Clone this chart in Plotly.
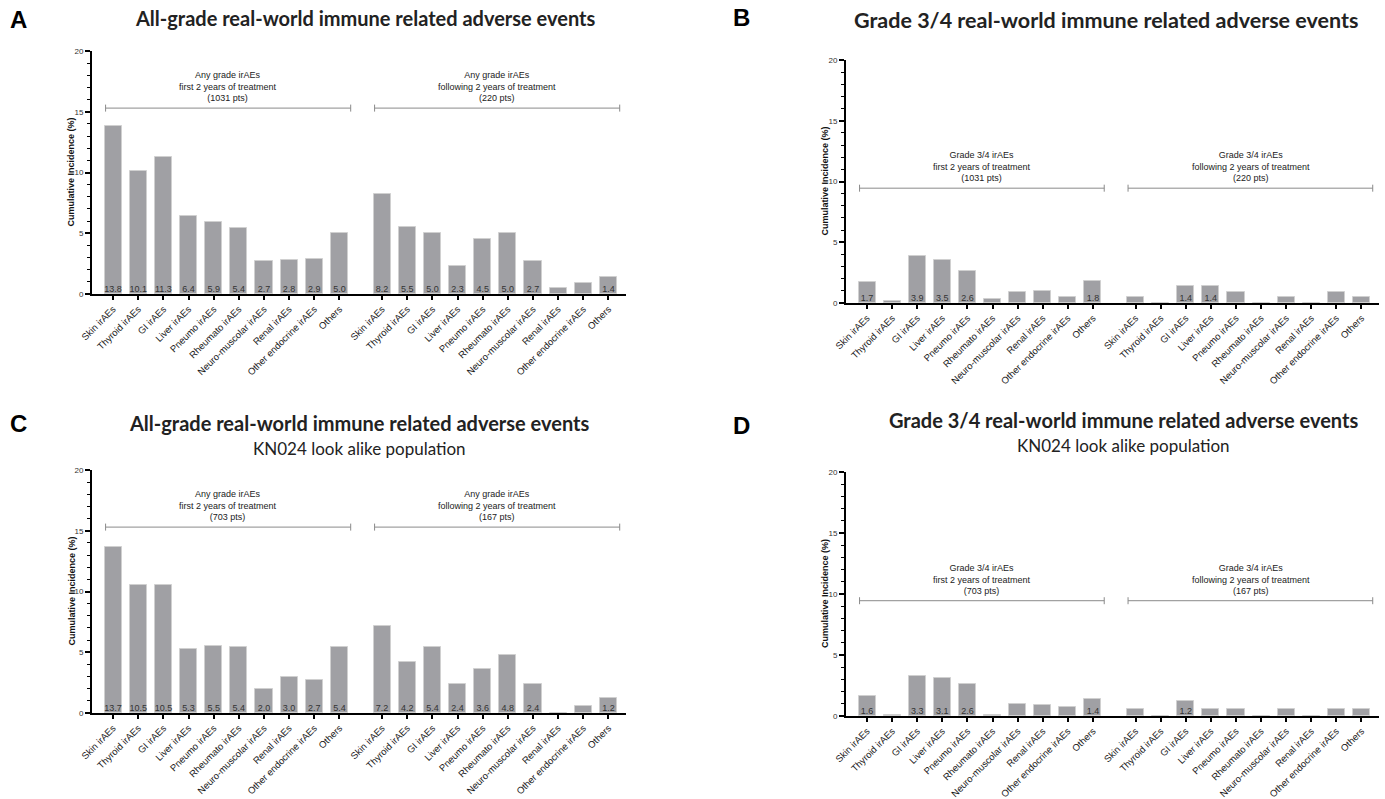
import plotly.graph_objects as go

W, H = 1385, 799

categories = ["Skin irAEs", "Thyroid irAEs", "GI irAEs", "Liver irAEs", "Pneumo irAEs",
              "Rheumato irAEs", "Neuro-muscolar irAEs", "Renal irAEs",
              "Other endocrine irAEs", "Others"]

# Panel A: all-grade
a_first = [13.8, 10.1, 11.3, 6.4, 5.9, 5.4, 2.7, 2.8, 2.9, 5.0]
a_follow = [8.2, 5.5, 5.0, 2.3, 4.5, 5.0, 2.7, 0.5, 0.9, 1.4]
# Panel B: grade 3/4
b_first = [1.7, 0.2, 3.9, 3.5, 2.6, 0.3, 0.9, 1.0, 0.5, 1.8]
b_follow = [0.5, 0.0, 1.4, 1.4, 0.9, 0.0, 0.5, 0.0, 0.9, 0.5]
# Panel C: all-grade, KN024 look alike
c_first = [13.7, 10.5, 10.5, 5.3, 5.5, 5.4, 2.0, 3.0, 2.7, 5.4]
c_follow = [7.2, 4.2, 5.4, 2.4, 3.6, 4.8, 2.4, 0.0, 0.6, 1.2]
# Panel D: grade 3/4, KN024 look alike
d_first = [1.6, 0.1, 3.3, 3.1, 2.6, 0.1, 1.0, 0.9, 0.7, 1.4]
d_follow = [0.6, 0.0, 1.2, 0.6, 0.6, 0.0, 0.6, 0.0, 0.6, 0.6]

group_labels = {
    "A": ["Any grade irAEs<br>first 2 years of treatment<br>(1031 pts)",
          "Any grade irAEs<br>following 2 years of treatment<br>(220 pts)"],
    "B": ["Grade 3/4 irAEs<br>first 2 years of treatment<br>(1031 pts)",
          "Grade 3/4 irAEs<br>following 2 years of treatment<br>(220 pts)"],
    "C": ["Any grade irAEs<br>first 2 years of treatment<br>(703 pts)",
          "Any grade irAEs<br>following 2 years of treatment<br>(167 pts)"],
    "D": ["Grade 3/4 irAEs<br>first 2 years of treatment<br>(703 pts)",
          "Grade 3/4 irAEs<br>following 2 years of treatment<br>(167 pts)"],
}
bracket_level = {"A": 15.3, "B": 9.45, "C": 15.3, "D": 9.45}

titles = {
    "A": "All-grade real-world immune related adverse events",
    "B": "Grade 3/4 real-world immune related adverse events",
    "C": "All-grade real-world immune related adverse events",
    "D": "Grade 3/4 real-world immune related adverse events",
}
subtitle = "KN024 look alike population"
y_title = "Cumulative Incidence (%)"

data = {"A": (a_first, a_follow), "B": (b_first, b_follow),
        "C": (c_first, c_follow), "D": (d_first, d_follow)}

G2 = 10.7  # start of second group
pos1 = [float(i) for i in range(10)]
pos2 = [G2 + i for i in range(10)]
positions = pos1 + pos2
ticktext = categories + categories

# pixel boxes for plot areas: (left, right, top, bottom)
boxes = {"A": (92, 626, 51, 294), "B": (846, 1379, 60, 303),
         "C": (92, 626, 470, 713), "D": (846, 1379, 472, 716)}


def px(x):
    return x / W


def py(y):
    return 1 - y / H


fig = go.Figure()
BAR = "#a0a0a4"
FONT = "Liberation Sans"

for k, name in enumerate(["A", "B", "C", "D"]):
    i = k + 1
    xa = "x" if i == 1 else f"x{i}"
    ya = "y" if i == 1 else f"y{i}"
    first, follow = data[name]
    vals = first + follow
    fig.add_trace(go.Bar(x=positions, y=vals, width=0.68, xaxis=xa, yaxis=ya,
                         marker=dict(color=BAR, line=dict(color="#d0d0d0", width=1)),
                         showlegend=False, hoverinfo="skip"))
    lab_x = [p for p, v in zip(positions, vals) if v >= 1.1]
    lab_t = [f"{v:.1f}" for v in vals if v >= 1.1]
    fig.add_trace(go.Scatter(x=lab_x, y=[0] * len(lab_x), text=lab_t, mode="text",
                             textposition="top center", xaxis=xa, yaxis=ya,
                             textfont=dict(family=FONT, size=9, color="#333333"),
                             showlegend=False, hoverinfo="skip"))
    lvl = bracket_level[name]
    for g, start in enumerate([0.0, G2]):
        fig.add_trace(go.Scatter(x=[start - 0.3, start + 9.45], y=[lvl, lvl],
                                 mode="lines+markers", xaxis=xa, yaxis=ya,
                                 line=dict(color="#8a8a8a", width=1),
                                 marker=dict(symbol="line-ns-open", size=5,
                                             line=dict(color="#8a8a8a", width=1)),
                                 showlegend=False, hoverinfo="skip"))
        fig.add_annotation(x=start + 4.58, y=lvl, xref=xa, yref=ya, yanchor="bottom",
                           yshift=3, text=group_labels[name][g], showarrow=False,
                           font=dict(family=FONT, size=9, color="#222222"))

    l, r, t, b = boxes[name]
    xkey = "xaxis" if i == 1 else f"xaxis{i}"
    ykey = "yaxis" if i == 1 else f"yaxis{i}"
    fig.layout[xkey] = dict(domain=[px(l), px(r)], range=[-0.84, 20.4], anchor=ya,
                            automargin=False,
                            tickmode="array", tickvals=positions, ticktext=ticktext,
                            tickangle=-45, ticks="outside", ticklen=4, tickwidth=1.5,
                            tickcolor="black", showline=True, linecolor="black",
                            linewidth=2, showgrid=False, zeroline=False,
                            tickfont=dict(family=FONT, size=9.5, color="#1a1a1a"))
    fig.layout[ykey] = dict(domain=[py(b), py(t)], range=[0, 20], anchor=xa,
                            automargin=False,
                            tickvals=[0, 5, 10, 15, 20], ticks="outside", ticklen=5,
                            tickwidth=1.5, tickcolor="black", showline=True,
                            linecolor="black", linewidth=2, showgrid=False,
                            zeroline=False,
                            minor=dict(dtick=1, ticks="outside", ticklen=3,
                                       tickcolor="black", tickwidth=1),
                            tickfont=dict(family=FONT, size=8, color="#333333"))
    # y-axis title
    fig.add_annotation(x=px(l - 21), y=py((t + b) / 2), xref="paper", yref="paper",
                       text=f"<b>{y_title}</b>", textangle=-90, showarrow=False,
                       xanchor="center", yanchor="middle",
                       font=dict(family=FONT, size=9, color="#111111"))

# titles and panel letters
title_pos = {"A": (365, 18), "B": (1106, 20), "C": (360, 423), "D": (1123, 420)}
title_size = {"A": 20, "B": 21.5, "C": 20, "D": 20}
letter_pos = {"A": (18, 20), "B": (742, 18), "C": (18, 423), "D": (742, 425)}
for name in ["A", "B", "C", "D"]:
    tx, ty = title_pos[name]
    fig.add_annotation(x=px(tx), y=py(ty), xref="paper", yref="paper",
                       text=f"<b>{titles[name]}</b>", showarrow=False,
                       xanchor="center", yanchor="middle",
                       font=dict(family="Lato", size=title_size[name], color="#222222"))
    lx, ly = letter_pos[name]
    fig.add_annotation(x=px(lx), y=py(ly), xref="paper", yref="paper",
                       text=f"<b>{name}</b>", showarrow=False,
                       xanchor="center", yanchor="middle",
                       font=dict(family=FONT, size=24, color="#000000"))
for name in ["C", "D"]:
    tx, ty = title_pos[name]
    fig.add_annotation(x=px(tx), y=py(ty + 25), xref="paper", yref="paper",
                       text=subtitle, showarrow=False, xanchor="center", yanchor="middle",
                       font=dict(family="Lato", size=17, color="#222222"))

fig.update_layout(width=W, height=H, margin=dict(l=0, r=0, t=0, b=0),
                  paper_bgcolor="white", plot_bgcolor="white", bargap=0)
fig.write_html("out.html", config={"displayModeBar": False},
               post_script="document.body.style.margin='0';document.body.style.overflow='hidden';")
